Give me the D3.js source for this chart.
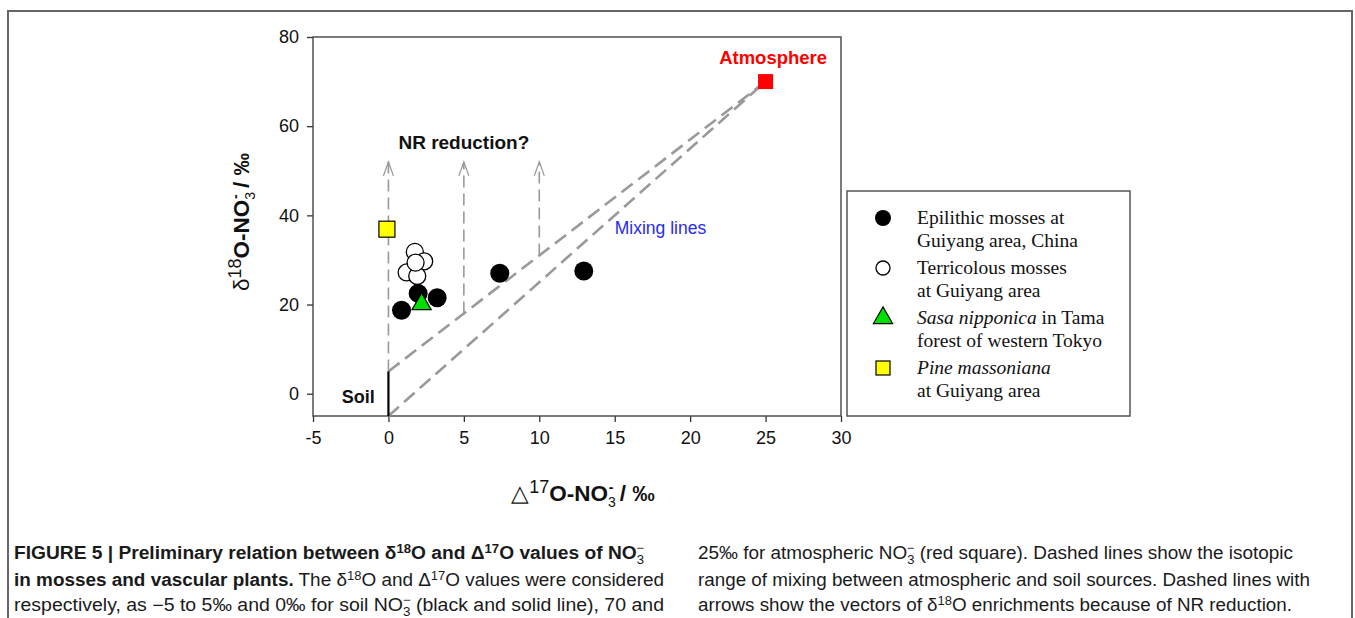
<!DOCTYPE html>
<html>
  <body style="margin:0;background:#fff">
    <script src="https://d3js.org/d3.v7.min.js"></script>
    <script type="text/javascript">
      const width = 1355;
      const height = 618;

      // data: [Δ17O, δ18O]
      const epilithic = [[0.87, 18.7], [1.97, 22.5], [3.23, 21.5], [7.38, 27.0], [12.95, 27.5]];
      const terricolous = [[1.75, 31.8], [2.37, 29.7], [1.21, 27.2], [1.91, 26.4], [1.80, 29.4]];
      const sasa = [[2.2, 20.1]];
      const pine = [[-0.1, 36.9]];
      const atmosphere = [25, 70];
      const soil = [[0, -5], [0, 5]];
      const arrowX = [0, 5, 10];
      const arrowTop = 52;
      const xTicks = [-5, 0, 5, 10, 15, 20, 25, 30];
      const yTicks = [0, 20, 40, 60, 80];

      const legendItems = [
        {sym: 'black', lines: [[['Epilithic mosses at', false]], [['Guiyang area, China', false]]]},
        {sym: 'open', lines: [[['Terricolous mosses', false]], [['at Guiyang area', false]]]},
        {sym: 'tri', lines: [[['Sasa nipponica', true], [' in Tama', false]], [['forest of western Tokyo', false]]]},
        {sym: 'sq', lines: [[['Pine massoniana', true]], [['at Guiyang area', false]]]},
      ];

      const svg = d3.select('body')
        .append('svg')
        .attr('width', width)
        .attr('height', height)
        .style('font-family', 'Liberation Sans, Arial, sans-serif');

      // outer figure frame
      svg.append('rect')
        .attr('x', 8).attr('y', 11)
        .attr('width', 1344).attr('height', 700)
        .attr('fill', 'none')
        .attr('stroke', '#666')
        .attr('stroke-width', 2);

      const x = d3.scaleLinear().domain([-5, 30]).range([313, 841]);
      const y = d3.scaleLinear().domain([-5, 80]).range([416, 37]);

      const xAxis = svg.append('g')
        .attr('transform', `translate(0,${y(-5)})`)
        .call(d3.axisBottom(x).tickValues(xTicks).tickSize(6).tickPadding(9).tickFormat((d) => String(d)));
      const yAxis = svg.append('g')
        .attr('transform', `translate(${x(-5)},0)`)
        .call(d3.axisLeft(y).tickValues(yTicks).tickSize(6).tickPadding(8).tickFormat((d) => String(d)));

      [xAxis, yAxis].forEach((g) => {
        g.select('.domain').remove();
        g.selectAll('line').attr('stroke', '#333').attr('stroke-width', 1.3);
        g.selectAll('text')
          .attr('font-size', 18)
          .attr('font-family', 'Liberation Sans, Arial, sans-serif')
          .attr('fill', '#111');
      });

      // plot frame
      svg.append('rect')
        .attr('x', x(-5)).attr('y', y(80))
        .attr('width', x(30) - x(-5)).attr('height', y(-5) - y(80))
        .attr('fill', 'none')
        .attr('stroke', '#444')
        .attr('stroke-width', 1.4);

      // mixing lines
      const line = d3.line().x((d) => x(d[0])).y((d) => y(d[1]));
      svg.append('g')
        .selectAll('path')
        .data([[soil[1], atmosphere], [soil[0], atmosphere]])
        .enter()
        .append('path')
        .attr('d', line)
        .attr('fill', 'none')
        .attr('stroke', '#999')
        .attr('stroke-width', 2.6)
        .attr('stroke-dasharray', '14,7');

      // NR reduction arrows, starting on the upper mixing line
      const upper = (v) => soil[1][1] + (atmosphere[1] - soil[1][1]) * v / atmosphere[0];
      const arrows = svg.append('g');
      arrowX.forEach((v) => {
        arrows.append('path')
          .attr('d', line([[v, upper(v)], [v, arrowTop]]))
          .attr('fill', 'none')
          .attr('stroke', '#999')
          .attr('stroke-width', 1.6)
          .attr('stroke-dasharray', '12,6');
        arrows.append('path')
          .attr('d', `M${x(v) - 5},${y(arrowTop) + 14}L${x(v)},${y(arrowTop)}L${x(v) + 5},${y(arrowTop) + 14}`)
          .attr('fill', 'none')
          .attr('stroke', '#999')
          .attr('stroke-width', 1.3);
      });

      // soil line
      svg.append('path')
        .attr('d', line(soil))
        .attr('stroke', '#000')
        .attr('stroke-width', 2.2);

      // points
      svg.append('g')
        .selectAll('circle')
        .data(terricolous)
        .enter()
        .append('circle')
        .attr('cx', (d) => x(d[0]))
        .attr('cy', (d) => y(d[1]))
        .attr('r', 8.5)
        .attr('fill', '#fff')
        .attr('stroke', '#000')
        .attr('stroke-width', 1.3);

      svg.append('g')
        .selectAll('circle')
        .data(epilithic)
        .enter()
        .append('circle')
        .attr('cx', (d) => x(d[0]))
        .attr('cy', (d) => y(d[1]))
        .attr('r', 9.5)
        .attr('fill', '#000');

      const tri = d3.symbol().type(d3.symbolTriangle).size(160);
      svg.append('g')
        .selectAll('path')
        .data(sasa)
        .enter()
        .append('path')
        .attr('d', tri)
        .attr('transform', (d) => `translate(${x(d[0])},${y(d[1])})`)
        .attr('fill', '#00e000')
        .attr('stroke', '#000')
        .attr('stroke-width', 1.2);

      svg.append('g')
        .selectAll('rect')
        .data(pine)
        .enter()
        .append('rect')
        .attr('x', (d) => x(d[0]) - 8)
        .attr('y', (d) => y(d[1]) - 8)
        .attr('width', 16)
        .attr('height', 16)
        .attr('fill', '#ffff00')
        .attr('stroke', '#000')
        .attr('stroke-width', 1.2);

      svg.append('rect')
        .attr('x', x(atmosphere[0]) - 7.5)
        .attr('y', y(atmosphere[1]) - 7.5)
        .attr('width', 15)
        .attr('height', 15)
        .attr('fill', '#ff0000');

      // annotations
      svg.append('text')
        .attr('x', x(25.5)).attr('y', y(74))
        .attr('text-anchor', 'middle')
        .attr('font-size', 18.5).attr('font-weight', 'bold')
        .attr('fill', '#ff0000')
        .text('Atmosphere');
      svg.append('text')
        .attr('x', x(5)).attr('y', y(54.9))
        .attr('text-anchor', 'middle')
        .attr('font-size', 19).attr('font-weight', 'bold')
        .attr('fill', '#111')
        .text('NR reduction?');
      svg.append('text')
        .attr('x', x(15)).attr('y', y(35.8))
        .attr('font-size', 17.5)
        .attr('fill', '#2a2af0')
        .text('Mixing lines');
      svg.append('text')
        .attr('x', x(-0.9)).attr('y', y(-2.1))
        .attr('text-anchor', 'end')
        .attr('font-size', 18).attr('font-weight', 'bold')
        .attr('fill', '#111')
        .text('Soil');

      // axis titles
      function axisTitle(t, sym, sup) {
        t.append('tspan').attr('font-weight', 'normal').text(sym);
        t.append('tspan').attr('font-weight', 'normal').attr('font-size', 18).attr('dy', -8).text(sup);
        t.append('tspan').attr('dy', 8).text('O-NO');
        t.append('tspan').attr('font-size', 14).attr('font-weight', 'normal').attr('dy', 6).text('3');
        t.append('tspan').attr('font-size', 14).attr('dx', -7).attr('dy', -15).text('-');
        t.append('tspan').attr('dy', 9).text(' / \u2030');
      }
      axisTitle(svg.append('text')
        .attr('x', 583).attr('y', 501)
        .attr('text-anchor', 'middle')
        .attr('font-size', 22.5).attr('font-weight', 'bold')
        .attr('fill', '#111'), '\u25B3', '17');

      axisTitle(svg.append('text')
        .attr('transform', 'translate(249,222) rotate(-90)')
        .attr('text-anchor', 'middle')
        .attr('font-size', 22.5).attr('font-weight', 'bold')
        .attr('fill', '#111'), '\u03B4', '18');

      // legend
      const lg = svg.append('g');
      lg.append('rect')
        .attr('x', 847).attr('y', 191)
        .attr('width', 283).attr('height', 225)
        .attr('fill', '#fff')
        .attr('stroke', '#555')
        .attr('stroke-width', 1.5);
      legendItems.forEach((item, i) => {
        const cy = 218 + i * 50;
        if (item.sym === 'black') {
          lg.append('circle').attr('cx', 883).attr('cy', cy).attr('r', 8).attr('fill', '#000');
        } else if (item.sym === 'open') {
          lg.append('circle').attr('cx', 883).attr('cy', cy).attr('r', 7).attr('fill', '#fff')
            .attr('stroke', '#000').attr('stroke-width', 1.3);
        } else if (item.sym === 'tri') {
          lg.append('path').attr('d', tri).attr('transform', `translate(883,${cy})`)
            .attr('fill', '#00e000').attr('stroke', '#000').attr('stroke-width', 1.2);
        } else {
          lg.append('rect').attr('x', 876).attr('y', cy - 7).attr('width', 14).attr('height', 14)
            .attr('fill', '#ffff00').attr('stroke', '#000').attr('stroke-width', 1.2);
        }
        item.lines.forEach((parts, j) => {
          const t = lg.append('text')
            .attr('x', 917).attr('y', cy + 6 + j * 23)
            .attr('font-family', 'Liberation Serif, Times New Roman, serif')
            .attr('font-size', 19.5)
            .attr('fill', '#111');
          parts.forEach((p) => {
            t.append('tspan').attr('font-style', p[1] ? 'italic' : 'normal').text(p[0]);
          });
        });
      });

      // caption
      const cap = svg.append('g')
        .attr('font-family', 'Liberation Sans Narrow, Liberation Sans, Arial, sans-serif')
        .attr('fill', '#1a1a1a')
        .attr('font-size', 17.5);

      function capLine(xp, yp, len, parts) {
        const t = cap.append('text')
          .attr('x', xp).attr('y', yp)
          .attr('textLength', len)
          .attr('lengthAdjust', 'spacingAndGlyphs');
        parts.forEach((p) => {
          const s = t.append('tspan').text(p.t);
          if (p.b) s.attr('font-weight', 'bold');
          if (p.fs) s.attr('font-size', p.fs);
          if (p.dy) s.attr('dy', p.dy);
          if (p.dx) s.attr('dx', p.dx);
        });
      }

      // NO3- with stacked sub/superscript, then the text that follows it
      const no3 = (bold, after) => [
        {t: 'NO', b: bold},
        {t: '3', fs: 12, dy: 5},
        {t: '\u2212', fs: 12, dx: -7, dy: -12},
      ].concat(after ? [{t: after, dy: 7}] : []);

      capLine(14, 559, 630, [
        {t: 'FIGURE 5 | Preliminary relation between \u03B4', b: true},
        {t: '18', b: true, fs: 12, dy: -6},
        {t: 'O and \u0394', b: true, dy: 6},
        {t: '17', b: true, fs: 12, dy: -6},
        {t: 'O values of ', b: true, dy: 6},
      ].concat(no3(true, null)));
      capLine(14, 586, 650, [
        {t: 'in mosses and vascular plants.', b: true},
        {t: ' The \u03B4'},
        {t: '18', fs: 12, dy: -6},
        {t: 'O and \u0394', dy: 6},
        {t: '17', fs: 12, dy: -6},
        {t: 'O values were considered', dy: 6},
      ]);
      capLine(14, 611, 650, [
        {t: 'respectively, as \u22125 to 5\u2030 and 0\u2030 for soil '},
      ].concat(no3(false, ' (black and solid line), 70 and')));

      capLine(698, 559, 595, [
        {t: '25\u2030 for atmospheric '},
      ].concat(no3(false, ' (red square). Dashed lines show the isotopic')));
      capLine(698, 586, 612, [
        {t: 'range of mixing between atmospheric and soil sources. Dashed lines with'},
      ]);
      capLine(698, 611, 594, [
        {t: 'arrows show the vectors of \u03B4'},
        {t: '18', fs: 12, dy: -6},
        {t: 'O enrichments because of NR reduction.', dy: 6},
      ]);
    </script>
  </body>
</html>
